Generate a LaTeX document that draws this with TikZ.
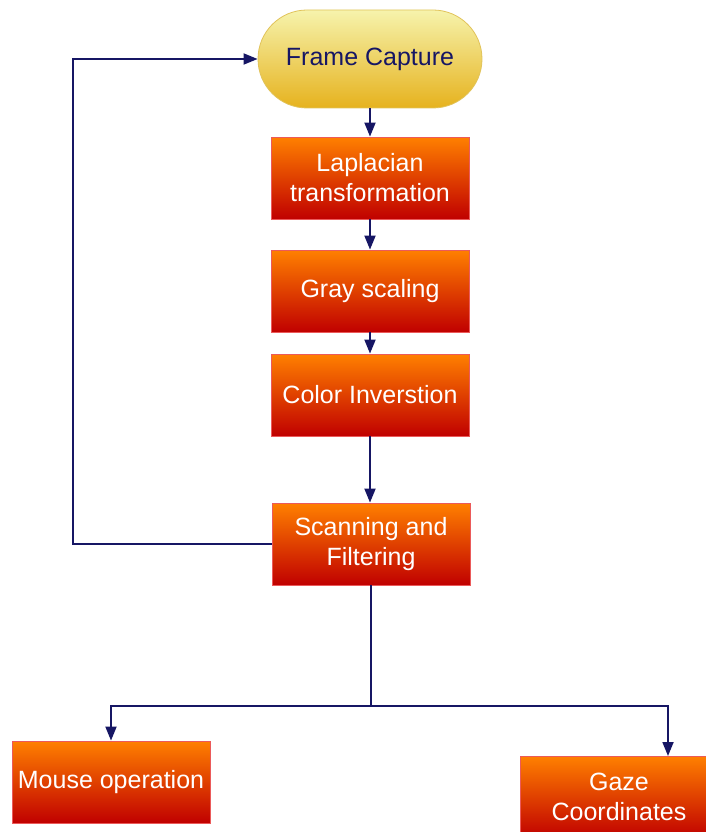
\documentclass[tikz,border=0pt]{standalone}
\usepackage{fontspec}
\setmainfont{Liberation Sans}
\usetikzlibrary{arrows.meta}

\definecolor{boxtop}{RGB}{255,128,0}
\definecolor{boxbot}{RGB}{192,0,0}
\definecolor{boxline}{RGB}{235,90,90}
\definecolor{captop}{RGB}{246,243,172}
\definecolor{capbot}{RGB}{230,178,30}
\definecolor{capline}{RGB}{225,195,90}
\definecolor{navy}{RGB}{22,22,100}

\tikzset{
  procbox/.style={draw=boxline, line width=0.8pt, top color=boxtop, bottom color=boxbot,
    text=white, minimum width=198pt, minimum height=82pt, inner sep=0pt,
    align=center, font=\fontsize{25}{30}\selectfont},
  capbox/.style={draw=capline, line width=0.8pt, top color=captop, bottom color=capbot,
    text=navy, minimum width=224pt, minimum height=98pt, inner sep=0pt,
    rounded corners=49pt, font=\fontsize{25}{30}\selectfont},
  flow/.style={draw=navy, line width=1.8pt, -{Triangle[length=14pt,width=11pt]}},
  plain/.style={draw=navy, line width=1.8pt}
}

\begin{document}
\begin{tikzpicture}[x=1pt,y=-1pt]
\clip (0,0) rectangle (706,832);

%main column
\node[capbox]  (capture) at (370,59)  {Frame Capture};
\node[procbox] (lapl)    at (370,178) {Laplacian\\transformation};
\node[procbox] (gray)    at (370,291) {Gray scaling};
\node[procbox] (invert)  at (370,395) {Color Inverstion};
\node[procbox] (scan)    at (371,544) {Scanning and\\Filtering};

%outputs
\node[procbox] (mouse) at (111,782) {Mouse operation};
\node[procbox] (gaze)  at (619,797) {Gaze\\Coordinates};

\coordinate (split)  at (371,706);
\coordinate (gazein) at (668,756);

%connectors
\draw[flow] (capture) -- (lapl);
\draw[flow] (lapl) -- (gray);
\draw[flow] (gray) -- (invert);
\draw[flow] (invert) -- (invert |- scan.north);

%back to capture
\draw[flow] (scan.west) -- ++(-199,0) |- (capture.west);

%branch
\draw[plain] (scan.south) -- (split);
\draw[flow] (split) -| (mouse.north);
\draw[flow] (split) -| (gazein);

\end{tikzpicture}
\end{document}
